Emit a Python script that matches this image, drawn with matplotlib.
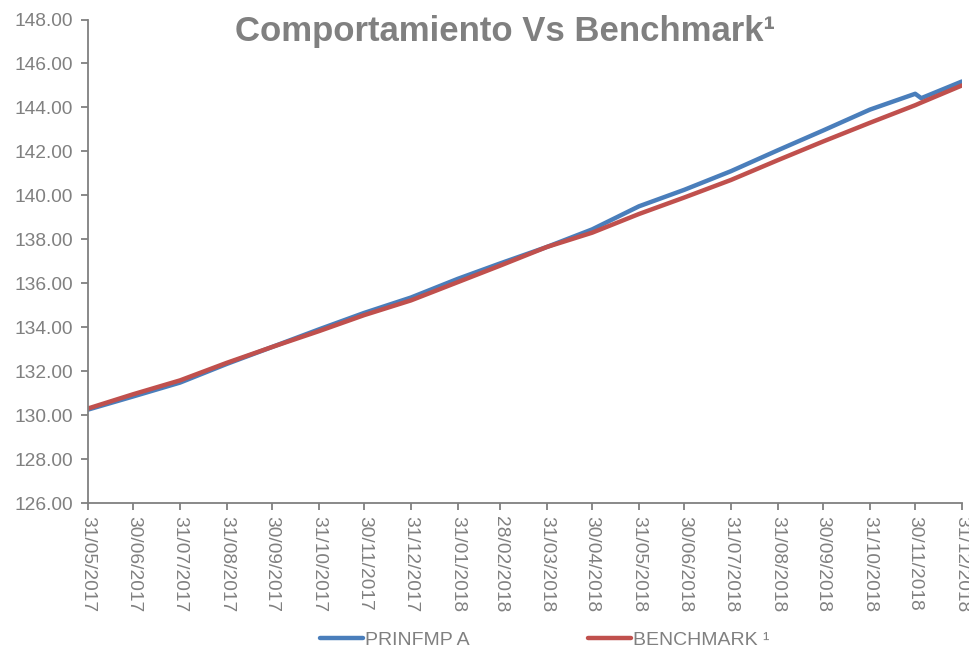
import matplotlib
matplotlib.use("Agg")
import matplotlib.pyplot as plt
import pandas as pd

plt.rcParams['font.family'] = ['Liberation Sans', 'DejaVu Sans']

dates = ["2017-05-31", "2017-06-30", "2017-07-31", "2017-08-31", "2017-09-30",
         "2017-10-31", "2017-11-30", "2017-12-31", "2018-01-31", "2018-02-28",
         "2018-03-31", "2018-04-30", "2018-05-31", "2018-06-30", "2018-07-31",
         "2018-08-31", "2018-09-30", "2018-10-31", "2018-11-30", "2018-12-04",
         "2018-12-31"]
prinfmp = [130.25, 130.85, 131.48, 132.33, 133.10, 133.90, 134.65, 135.35,
           136.20, 136.90, 137.65, 138.45, 139.50, 140.25, 141.10, 142.05,
           142.95, 143.90, 144.62, 144.42, 145.18]
benchmark = [130.30, 130.95, 131.58, 132.38, 133.10, 133.82, 134.55, 135.22,
             136.05, 136.80, 137.65, 138.30, 139.15, 139.90, 140.70, 141.60,
             142.45, 143.30, 144.10, 144.22, 145.00]
tick_dates = ["2017-05-31", "2017-06-30", "2017-07-31", "2017-08-31", "2017-09-30",
              "2017-10-31", "2017-11-30", "2017-12-31", "2018-01-31", "2018-02-28",
              "2018-03-31", "2018-04-30", "2018-05-31", "2018-06-30", "2018-07-31",
              "2018-08-31", "2018-09-30", "2018-10-31", "2018-11-30", "2018-12-31"]
y_ticks = [126, 128, 130, 132, 134, 136, 138, 140, 142, 144, 146, 148]

gray = '#808080'
blue = '#4A7EBB'
red = '#C0504D'

x = pd.to_datetime(dates)
xt = pd.to_datetime(tick_dates)

fig = plt.figure(figsize=(9.69, 6.48), dpi=100)
ax = fig.add_axes([88/969, 1-503/648, (962-88)/969, (503-19.5)/648])

ax.plot(x, prinfmp, color=blue, lw=3.2, label='PRINFMP A', solid_capstyle='round')
ax.plot(x, benchmark, color=red, lw=3.2, label='BENCHMARK \u00b9', solid_capstyle='round')

ax.set_xlim(xt[0], xt[-1])
ax.set_ylim(126, 148)
ax.set_yticks(y_ticks)
ax.set_yticklabels([f"{v:.2f}" for v in y_ticks])
ax.set_xticks(xt)
ax.set_xticklabels([d.strftime('%d/%m/%Y') for d in xt], rotation=-90, ha='center', va='top')

for s in ['top', 'right']:
    ax.spines[s].set_visible(False)
for s in ['left', 'bottom']:
    ax.spines[s].set_color(gray)
    ax.spines[s].set_linewidth(1.3)
ax.tick_params(axis='both', colors=gray, labelcolor=gray, labelsize=13.8,
               length=5, width=1.3, direction='out')
ax.tick_params(axis='y', pad=6)
ax.tick_params(axis='x', pad=4)

fig.text(505/969, 1-32/648, 'Comportamiento Vs Benchmark\u00b9', ha='center', va='center',
         fontsize=25, fontweight='bold', color=gray)

leg = fig.legend(loc='center', bbox_to_anchor=(545/969, 1-640/648), ncol=2, frameon=False,
                 fontsize=14, handlelength=2.2, handletextpad=0.1, columnspacing=6.1,
                 borderpad=0)
for t in leg.get_texts():
    t.set_color(gray)

fig.savefig('out.png', dpi=100)
